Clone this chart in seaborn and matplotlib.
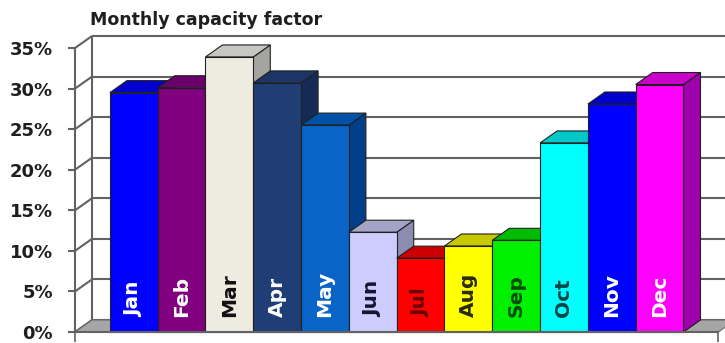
import matplotlib
matplotlib.use("Agg")
import matplotlib.pyplot as plt
import seaborn as sns
import pandas as pd
from matplotlib.patches import Polygon, Rectangle
from matplotlib.ticker import FuncFormatter

# ---- data -------------------------------------------------------------
months = ["Jan", "Feb", "Mar", "Apr", "May", "Jun",
          "Jul", "Aug", "Sep", "Oct", "Nov", "Dec"]
capacity_pct = [29.5, 30.1, 33.9, 30.7, 25.5, 12.3,
                9.1, 10.6, 11.3, 23.3, 28.1, 30.5]
y_ticks = [0, 5, 10, 15, 20, 25, 30, 35]
title = "Monthly capacity factor"

# ---- styling ----------------------------------------------------------
front_colors = ["#0000FF", "#800080", "#EEEBE0", "#1F3E75", "#0A64C8", "#CCCCFF",
                "#FF0000", "#FFFF00", "#00F000", "#00FFFF", "#0000FF", "#FF00FF"]
top_colors = ["#0000CC", "#6A006A", "#C6C6C2", "#1B3566", "#0052A8", "#A4A4C8",
              "#CC0000", "#C8C800", "#00BB00", "#00C8C8", "#0000CC", "#CC00CC"]
side_colors = ["#0000A8", "#5A005A", "#A4A4A0", "#152B55", "#003F8A", "#8C8CB0",
               "#A00000", "#A0A000", "#009600", "#00A0A0", "#0000A8", "#A000AC"]
label_colors = ["white", "white", "#111111", "white", "white", "#141430",
                "#6b0000", "#2a2a00", "#004d00", "#004444", "white", "white"]

sns.set_theme(style="white")
plt.rcParams["font.family"] = ["DejaVu Sans"]

W, H, DPI = 725, 343, 100
PX_X = 47.8      # pixels per category
PX_Y = 8.114     # pixels per percentage point
LEFT_PX = 75     # front value axis
ZERO_PX = 332    # pixel row of the 0 % baseline (from top)
EDGE_PAD = 0.73  # floor margin beyond first / last bar, in categories
DX = 17 / PX_X   # 3-D depth offset, x
DY = 12 / PX_Y   # 3-D depth offset, y

fig = plt.figure(figsize=(W / DPI, H / DPI), dpi=DPI)
ax = fig.add_axes([LEFT_PX / W, 0, 1 - LEFT_PX / W, 1])

df = pd.DataFrame({"month": months, "cf": capacity_pct})
sns.barplot(data=df, x="month", y="cf", hue="month", palette=front_colors,
            width=1.0, saturation=1, legend=False, ax=ax,
            edgecolor="#202020", linewidth=0.8)
bars = sorted([p for p in ax.patches if isinstance(p, Rectangle)],
              key=lambda p: p.get_x())

x_lo = -0.5 - EDGE_PAD
x_hi = len(months) - 0.5 + EDGE_PAD
ax.set_xlim(x_lo, x_lo + (W - LEFT_PX) / PX_X)
y_lo = -(H - ZERO_PX) / PX_Y
ax.set_ylim(y_lo, y_lo + H / PX_Y)

grid_kw = dict(color="#626262", lw=1.5, solid_capstyle="butt", zorder=1)

# back wall gridlines and side-wall diagonals
for g in y_ticks:
    ax.plot([x_lo + DX, x_hi + DX], [g + DY, g + DY], **grid_kw)
    ax.plot([x_lo, x_lo + DX], [g, g + DY], **grid_kw)
ax.plot([x_lo + DX, x_lo + DX], [DY, y_ticks[-1] + DY], **grid_kw)

# floor
ax.add_patch(Polygon([(x_lo, 0), (x_hi, 0), (x_hi + DX, DY), (x_lo + DX, DY)],
                     closed=True, facecolor="#A6A6A6", edgecolor="#6a6a6a",
                     lw=0.8, zorder=1.5))

# 3-D faces for every bar, painted left to right
for i, p in enumerate(bars):
    x, w, h = p.get_x(), p.get_width(), p.get_height()
    z = 3 + i * 0.1
    p.set_zorder(z + 0.05)
    top = Polygon([(x, h), (x + w, h), (x + w + DX, h + DY), (x + DX, h + DY)],
                  closed=True, facecolor=top_colors[i], edgecolor="#202020",
                  lw=0.8, zorder=z)
    side = Polygon([(x + w, 0), (x + w, h), (x + w + DX, h + DY), (x + w + DX, DY)],
                   closed=True, facecolor=side_colors[i], edgecolor="#202020",
                   lw=0.8, zorder=z)
    ax.add_patch(side)
    ax.add_patch(top)
    ax.text(x + w / 2, 1.8, months[i], rotation=90, rotation_mode="anchor",
            ha="left", va="center", fontsize=14.5, fontweight="bold",
            color=label_colors[i], zorder=z + 0.08)

# axes: front value axis and category baseline
for s in ("top", "right"):
    ax.spines[s].set_visible(False)
ax.spines["left"].set_bounds(0, y_ticks[-1])
ax.spines["left"].set_color("#626262")
ax.spines["left"].set_linewidth(1.5)
ax.spines["bottom"].set_position(("data", 0))
ax.spines["bottom"].set_bounds(x_lo, x_hi)
ax.spines["bottom"].set_color("#626262")
ax.spines["bottom"].set_linewidth(1.5)
ax.spines["bottom"].set_zorder(6)

ax.set_yticks(y_ticks)
ax.yaxis.set_major_formatter(FuncFormatter(lambda v, _: f"{v:.0f}%"))
ax.tick_params(axis="y", direction="out", length=5, width=1.5, color="#626262",
               pad=11, labelsize=13, labelcolor="#1e1e1e", left=True)
for lab in ax.get_yticklabels():
    lab.set_fontweight("bold")
ax.set_xticks([x_lo, x_hi])
ax.set_xticklabels([])
ax.tick_params(axis="x", direction="out", length=7, width=1.2, color="#626262",
               bottom=True)
ax.set_xlabel("")
ax.set_ylabel("")

fig.text(90 / W, 1 - 20 / H, title, ha="left", va="center",
         fontsize=12.5, fontweight="bold", color="#1e1e1e")

fig.savefig("out.png", dpi=DPI)
